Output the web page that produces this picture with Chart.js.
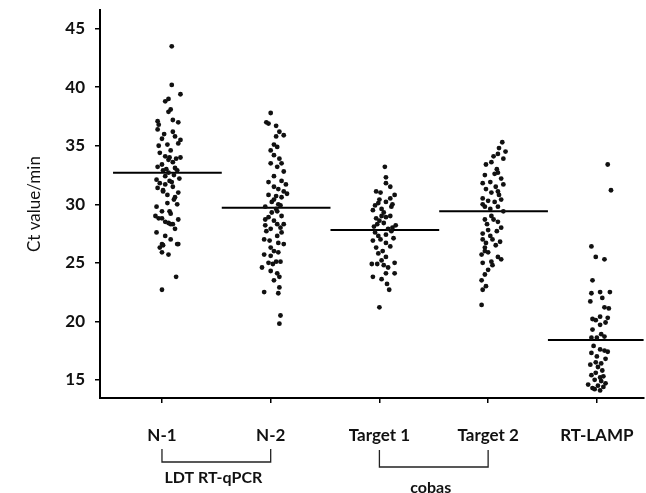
<!DOCTYPE html>
<html>
<head>
<meta charset="utf-8">
<script src="https://cdn.jsdelivr.net/npm/chart.js@4/dist/chart.umd.min.js"></script>
<style>
html,body{margin:0;padding:0;background:#fff;}
#wrap{width:646px;height:493px;position:relative;}
</style>
</head>
<body>
<div id="wrap"><canvas id="c" width="646" height="493"></canvas></div>
<script>
// ---- data ----
const categories = ["N-1", "N-2", "Target 1", "Target 2", "RT-LAMP"];
const yTicks = [15, 20, 25, 30, 35, 40, 45];
const medians = [32.7, 29.7, 27.8, 29.4, 18.4];
const groups = [
  { label: "LDT RT-qPCR", from: 0, to: 1 },
  { label: "cobas", from: 2, to: 3 }
];

// Ct values per category (with horizontal jitter in category units)
const n1Values = [43.5,40.2,39.4,39.0,38.8,38.1,37.9,37.1,36.8,37.2,36.4,37.0,36.2,35.0,35.1,35.5,35.2,34.1,34.0,34.0,33.2,33.6,32.9,32.7,32.9,32.5,32.4,31.8,31.7,32.0,31.5,31.1,31.0,30.8,29.8,30.1,29.4,28.8,28.5,28.7,28.3,28.4,27.6,26.6,26.6,26.5,26.3,25.7,26.6,23.8,22.7,33.1,32.1,31.9,31.2,30.6,29.4,28.8,28.3,33.4,36.0,35.8,34.6,34.4,33.9,33.0,32.2,31.4,30.4,30.0,29.2,29.0,27.9,27.3,27.0,25.9,35.6,33.8];
const n1Jitter = [0.09,0.09,0.17,0.06,0.03,0.08,0.06,-0.04,-0.03,0.10,-0.04,0.15,0.10,-0.03,0.05,0.17,0.15,0.03,0.07,0.17,-0.04,0.10,0.01,0.06,0.14,0.11,0.03,-0.02,0.03,0.07,0.10,0.01,0.15,0.05,-0.05,0.05,0.00,-0.03,0.03,0.15,0.10,0.06,-0.05,0.00,0.15,0.01,-0.02,0.06,0.14,0.13,0.00,0.12,-0.05,0.09,0.01,0.12,0.07,0.00,0.08,0.00,0.02,0.12,0.08,-0.02,0.13,0.04,0.16,-0.04,0.11,0.14,0.08,-0.06,0.12,0.03,0.08,0.00,0.00,0.06];

const n2Values = [37.8,37.0,36.7,36.9,35.8,35.9,35.1,34.9,34.2,33.5,33.5,33.2,32.4,32.0,31.9,31.7,31.3,31.1,30.7,30.6,30.2,30.0,29.8,29.6,29.9,28.9,28.6,28.2,27.9,28.3,28.3,27.7,27.3,27.0,26.3,26.7,26.6,25.7,25.6,25.9,24.6,25.0,24.9,25.1,25.1,24.1,23.5,22.9,22.5,22.4,20.5,19.8,29.3,30.4,28.0,26.9,36.2,34.6,33.9,32.8,31.5,30.9,29.0,27.6,26.0,24.3,23.8,28.7,29.4,30.8];
const n2Jitter = [0.00,-0.04,0.05,-0.02,0.05,0.12,0.03,0.06,0.03,0.00,0.10,0.06,0.03,0.10,-0.02,0.14,0.07,0.12,0.05,0.10,0.01,0.07,-0.05,0.05,0.09,-0.02,0.03,-0.05,0.00,0.06,0.12,-0.04,0.06,-0.06,0.00,0.07,0.12,-0.06,0.00,0.07,-0.08,-0.02,0.02,0.05,0.09,0.06,0.03,0.08,-0.06,0.07,0.09,0.08,0.01,0.03,0.09,-0.01,0.08,0.00,0.08,0.12,0.03,0.15,0.10,0.10,0.03,0.00,0.08,-0.05,0.06,-0.02];

const t1Values = [33.2,32.3,31.8,31.0,31.1,30.8,30.1,30.2,29.8,29.5,29.3,28.9,28.8,29.0,28.4,28.2,28.1,27.9,27.6,27.4,27.1,27.0,26.9,26.7,26.3,25.8,25.5,24.9,24.9,24.8,24.6,25.0,24.1,24.1,23.8,23.6,22.7,21.2,29.6,28.6,30.5,27.7,31.5,30.4,29.9,29.0,28.3,27.3,26.4,26.0,25.2,23.2,30.0,28.0];
const t1Jitter = [0.05,0.06,0.06,0.01,-0.03,0.14,-0.01,0.06,0.11,-0.06,0.04,0.06,-0.03,0.10,0.04,0.15,-0.05,0.08,-0.04,0.06,0.13,0.01,-0.06,0.06,-0.03,-0.01,0.06,-0.07,-0.02,0.04,0.08,0.14,0.14,0.06,-0.06,0.02,0.09,0.00,0.02,0.00,0.10,0.11,0.10,0.00,-0.04,0.02,-0.02,-0.01,0.10,0.03,0.02,0.07,0.12,0.12];

const t2Values = [35.3,34.5,34.1,34.3,33.9,33.4,33.6,32.7,32.5,32.6,31.8,31.9,31.7,31.3,31.0,31.1,30.5,30.3,30.2,30.4,29.8,29.8,29.6,29.4,28.7,28.7,28.5,28.0,27.8,27.3,27.5,26.7,26.8,27.0,27.0,26.3,25.7,25.9,25.0,25.1,25.5,25.3,24.4,23.5,22.7,21.4,34.8,33.0,32.2,31.5,30.8,30.0,29.0,28.3,27.7,26.5,26.0,24.8,24.0,23.0];
const t2Jitter = [0.13,0.16,0.05,0.09,0.14,-0.02,0.03,0.09,-0.03,0.06,-0.05,0.02,0.14,-0.02,0.03,0.09,-0.05,0.00,0.06,0.12,-0.03,0.09,0.02,0.14,-0.03,0.05,0.09,0.12,0.00,0.02,-0.05,-0.02,0.11,-0.05,0.04,-0.03,-0.06,0.00,-0.05,0.03,0.09,0.12,0.00,-0.06,-0.05,-0.06,0.10,0.08,0.12,0.07,0.10,-0.05,0.03,-0.01,0.08,0.07,-0.03,0.04,-0.03,-0.02];

const lampValues = [33.4,31.2,26.4,25.5,25.3,23.5,22.4,22.5,22.5,21.7,21.2,21.1,20.1,20.2,20.4,20.3,19.3,19.7,18.6,18.6,18.7,17.3,17.6,17.5,17.4,16.3,16.5,16.4,16.1,15.4,15.6,15.2,15.3,14.6,14.3,14.5,14.4,14.2,14.7,22.0,19.9,18.9,17.9,17.0,16.8,15.8,15.0,14.9,14.1];
const lampJitter = [0.10,0.13,-0.05,-0.01,0.07,-0.04,-0.05,0.03,0.12,-0.06,0.07,0.11,-0.01,-0.04,0.03,0.10,-0.04,0.03,-0.05,0.00,0.07,-0.05,0.03,0.07,0.10,-0.06,-0.01,0.04,0.01,-0.05,-0.01,0.03,0.06,-0.08,-0.04,0.01,0.06,-0.02,0.08,0.05,0.08,0.04,-0.03,0.00,0.08,0.05,-0.02,0.04,0.03];

const seriesValues = [n1Values, n2Values, t1Values, t2Values, lampValues];
const seriesJitter = [n1Jitter, n2Jitter, t1Jitter, t2Jitter, lampJitter];

// ---- build datasets ----
const pointData = [];
seriesValues.forEach((vals, i) => {
  vals.forEach((v, k) => pointData.push({ x: i + seriesJitter[i][k], y: v }));
});

const datasets = [{
  type: 'scatter',
  data: pointData,
  pointRadius: 2.4,
  pointBackgroundColor: '#111',
  pointBorderWidth: 0,
  pointHoverRadius: 2.4
}];
medians.forEach((m, i) => {
  datasets.push({
    type: 'line',
    data: [{ x: i - 0.45, y: m }, { x: i + 0.55, y: m }],
    borderColor: '#000',
    borderWidth: 2,
    pointRadius: 0,
    fill: false
  });
});

const FONT = 'Lato, "Open Sans", sans-serif';

const bracketPlugin = {
  id: 'brackets',
  afterDraw(chart) {
    const ctx = chart.ctx;
    const xs = chart.scales.x;
    const geo = [{ top: 449, bottom: 462, textY: 478 }, { top: 450, bottom: 467, textY: 488 }];
    ctx.save();
    ctx.strokeStyle = '#222';
    ctx.lineWidth = 1.3;
    ctx.fillStyle = '#111';
    ctx.font = 'bold 16px ' + FONT;
    ctx.textAlign = 'center';
    ctx.textBaseline = 'middle';
    groups.forEach((g, i) => {
      const x1 = xs.getPixelForValue(g.from);
      const x2 = xs.getPixelForValue(g.to);
      const gg = geo[i];
      ctx.beginPath();
      ctx.moveTo(x1, gg.top); ctx.lineTo(x1, gg.bottom);
      ctx.lineTo(x2, gg.bottom); ctx.lineTo(x2, gg.top);
      ctx.stroke();
      ctx.fillText(g.label, (x1 + x2) / 2 - 3, gg.textY);
    });
    ctx.restore();
  }
};

new Chart(document.getElementById('c'), {
  data: { datasets },
  options: {
    responsive: false,
    animation: false,
    events: [],
    layout: { padding: { left: 0, right: 0, top: 10, bottom: 0 } },
    plugins: { legend: { display: false }, tooltip: { enabled: false } },
    scales: {
      x: {
        type: 'linear',
        min: -0.57,
        max: 4.43,
        afterBuildTicks: s => { s.ticks = categories.map((c, i) => ({ value: i })); },
        afterFit: s => { s.height = 95; s.paddingLeft = 0; s.paddingRight = 0; },
        ticks: {
          callback: v => categories[v],
          color: '#111',
          font: { family: FONT, size: 17, weight: 'bold' },
          padding: 22,
          maxRotation: 0,
          autoSkip: false
        },
        grid: { drawOnChartArea: false, tickLength: 5, color: '#000', lineWidth: 1.5 },
        border: { display: true, color: '#000', width: 2 }
      },
      y: {
        type: 'linear',
        min: 13.45,
        max: 46.6,
        afterBuildTicks: s => { s.ticks = yTicks.map(v => ({ value: v })); },
        afterFit: s => { s.width = 100; s.paddingTop = 0; s.paddingBottom = 0; },
        ticks: {
          color: '#111',
          font: { family: FONT, size: 17, weight: 'bold' },
          padding: 10
        },
        grid: { drawOnChartArea: false, tickLength: 5, color: '#000', lineWidth: 1.5 },
        border: { display: true, color: '#000', width: 2 },
        title: {
          display: true,
          text: 'Ct value/min',
          color: '#111',
          font: { family: FONT, size: 17 },
          padding: { top: 24, bottom: 0 }
        }
      }
    }
  },
  plugins: [bracketPlugin]
});
</script>
</body>
</html>
